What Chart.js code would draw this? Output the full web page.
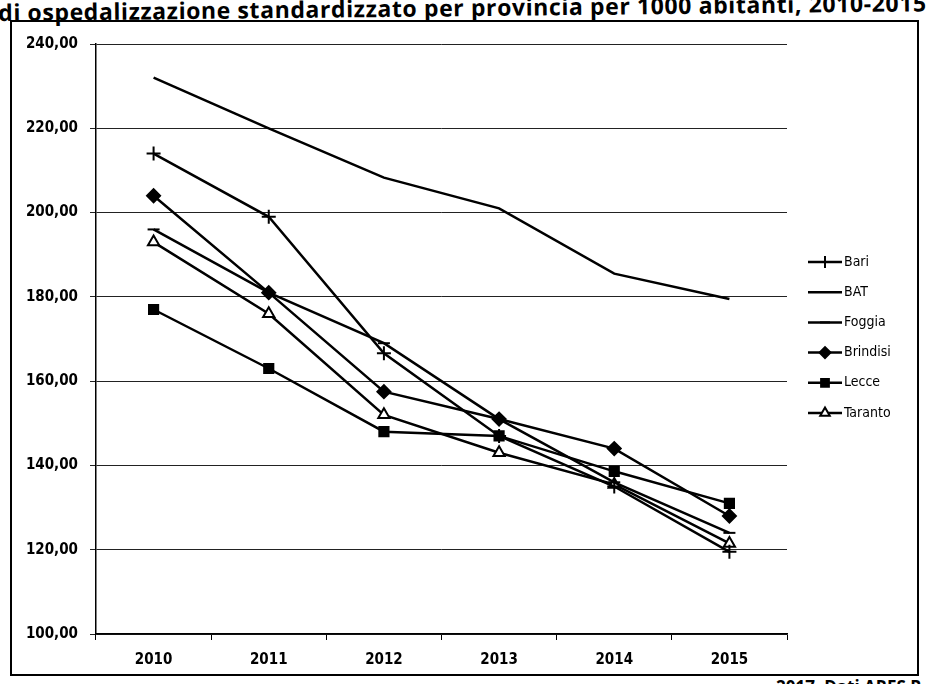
<!DOCTYPE html>
<html lang="it">
<head>
<meta charset="UTF-8">
<title>Tasso di ospedalizzazione standardizzato</title>
<style>
  body { margin: 0; background: #fff; width: 931px; height: 684px; overflow: hidden; position: relative; font-family: "Liberation Sans", Arial, sans-serif; }
  .titolo { position: absolute; left: -2px; top: -4px; font: bold 23px "Open Sans", sans-serif; color: #000; white-space: nowrap; letter-spacing: 0.6px; transform: rotate(-0.6deg); transform-origin: left top; }
  .riquadro { position: absolute; left: 10px; top: 20px; width: 905px; height: 652px; border: 2px solid #000; }
  .fonte { position: absolute; right: 10px; top: 675px; font: bold 17px "Open Sans", sans-serif; color: #000; }
  canvas { position: absolute; left: 0; top: 0; }
</style>
</head>
<body>
<div class="titolo">di ospedalizzazione standardizzato per provincia per 1000 abitanti, 2010-2015</div>
<div class="riquadro"></div>
<div class="fonte">2017. Dati ARES P</div>
<canvas id="grafico" width="931" height="684"></canvas>
<script src="https://cdn.jsdelivr.net/npm/chart.js"></script>
<script>
// dati
const anni = ['2010', '2011', '2012', '2013', '2014', '2015'];
const bari = [214, 199, 166.6, 147, 135, 119.5];
const bat = [232, 220, 208.3, 201, 185.5, 179.5];
const foggia = [196, 181, 169, 151, 136, 124];
const brindisi = [204, 181, 157.5, 151, 144, 128];
const lecce = [177, 163, 148, 147, 138.6, 131];
const taranto = [193, 176, 152, 143, 135.5, 121.5];
const assey = { min: 100, max: 240, passo: 20 };

const carattere = '"DejaVu Sans Condensed", "Liberation Sans", Arial, sans-serif';

function serie(nome, valori, stile, raggio, riempi) {
  return {
    label: nome,
    data: valori,
    borderColor: '#000',
    backgroundColor: riempi,
    borderWidth: 2.5,
    pointStyle: stile,
    pointRadius: raggio,
    pointBorderWidth: 2,
    pointBorderColor: '#000',
    pointBackgroundColor: riempi,
    tension: 0
  };
}

// legenda alla Excel: tratto di linea con il marcatore al centro
const legendaExcel = {
  id: 'legendaExcel',
  afterDraw(chart) {
    const ctx = chart.ctx;
    const x0 = 808, x1 = 842, y0 = 262, passo = 30.2;
    ctx.save();
    ctx.font = '14px ' + carattere;
    ctx.textBaseline = 'middle';
    chart.data.datasets.forEach((ds, i) => {
      const y = y0 + i * passo;
      ctx.strokeStyle = '#000';
      ctx.lineWidth = 2.5;
      ctx.beginPath();
      ctx.moveTo(x0, y);
      ctx.lineTo(x1, y);
      ctx.stroke();
      if (ds.pointRadius > 0 && Chart.helpers && Chart.helpers.drawPoint) {
        ctx.fillStyle = ds.pointBackgroundColor;
        ctx.lineWidth = 2;
        Chart.helpers.drawPoint(ctx, { pointStyle: ds.pointStyle, radius: ds.pointRadius - 1, borderWidth: 2, rotation: 0 }, (x0 + x1) / 2, y);
      }
      ctx.fillStyle = '#000';
      ctx.fillText(ds.label, x1 + 2, y);
    });
    ctx.restore();
  }
};

new Chart(document.getElementById('grafico'), {
  type: 'line',
  data: {
    labels: anni,
    datasets: [
      serie('Bari', bari, 'cross', 7, '#000'),
      serie('BAT', bat, 'circle', 0, '#000'),
      serie('Foggia', foggia, 'line', 6, '#000'),
      serie('Brindisi', brindisi, 'rectRot', 6.5, '#000'),
      serie('Lecce', lecce, 'rect', 6.5, '#000'),
      serie('Taranto', taranto, 'triangle', 6.5, '#fff')
    ]
  },
  options: {
    responsive: false,
    animation: false,
    layout: { padding: { left: 0, top: 44, right: 144, bottom: 10 } },
    plugins: { legend: { display: false }, tooltip: { enabled: false } },
    scales: {
      x: {
        offset: true,
        afterFit(scale) { scale.height = 40; },
        grid: { drawOnChartArea: false, drawTicks: true, tickLength: 6, color: '#000', offset: true },
        border: { display: true, color: '#000', width: 1.5 },
        ticks: { color: '#000', padding: 11, font: { family: carattere, size: 15, weight: 'bold' } }
      },
      y: {
        min: assey.min,
        max: assey.max,
        afterFit(scale) { scale.width = 96; },
        grid: { color: '#222', lineWidth: 1, tickLength: 6 },
        border: { display: true, color: '#000', width: 1.5 },
        ticks: {
          stepSize: assey.passo,
          color: '#000',
          padding: 12,
          font: { family: carattere, size: 15, weight: 'bold' },
          callback: v => v.toFixed(2).replace('.', ',')
        }
      }
    }
  },
  plugins: [legendaExcel]
});
</script>
</body>
</html>
